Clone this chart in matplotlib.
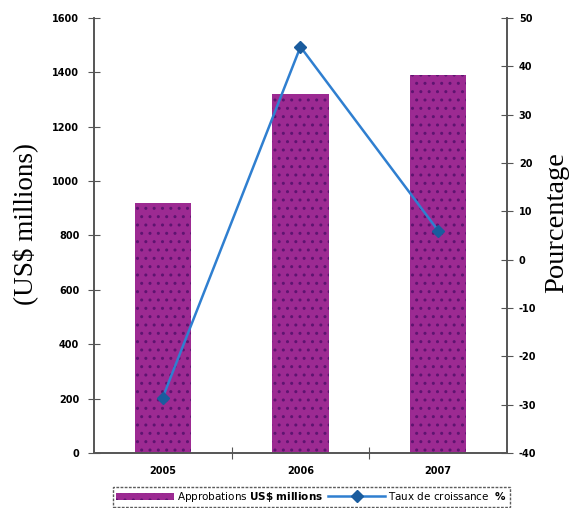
import matplotlib.pyplot as plt
from matplotlib.lines import Line2D
from matplotlib.patches import Patch

years = ["2005", "2006", "2007"]
approvals = [920, 1320, 1390]      # US$ millions
growth = [-28.5, 44, 6]            # %

bar_color = "#9C2A92"
dot_color = "#5E1470"
line_color = "#2F7FD0"
marker_color = "#1A5C9E"
spine_color = "#555555"

plt.rcParams["axes.unicode_minus"] = False

fig = plt.figure(figsize=(5.69, 5.08), dpi=100)
ax = fig.add_axes([0.165, 0.108, 0.726, 0.857])
ax2 = ax.twinx()

x = range(len(years))
ax.bar(x, approvals, width=0.41, color=bar_color, edgecolor=dot_color,
       linewidth=0, hatch="..", zorder=2)
ax2.plot(x, growth, color=line_color, lw=1.8, marker="D", markersize=6,
         markerfacecolor=marker_color, markeredgecolor=marker_color, zorder=3)

ax.set_xlim(-0.5, 2.5)
ax.set_ylim(0, 1600)
ax.set_yticks(range(0, 1601, 200))
ax2.set_ylim(-40, 50)
ax2.set_yticks(range(-40, 51, 10))

# category labels in the middle, tick marks on the boundaries
ax.set_xticks([0.5, 1.5])
ax.set_xticklabels([])
ax.set_xticks(list(x), minor=True)
ax.set_xticklabels(years, minor=True, fontsize=7, fontweight="bold")
ax.tick_params(axis="x", which="major", direction="inout", length=8,
               color=spine_color)
ax.tick_params(axis="x", which="minor", length=0, pad=9)

ax.tick_params(axis="y", direction="inout", length=9, color=spine_color,
               labelsize=7, pad=6)
ax2.tick_params(axis="y", direction="inout", length=9, color=spine_color,
                labelsize=7, pad=4)
for lbl in ax.get_yticklabels() + ax2.get_yticklabels():
    lbl.set_fontweight("bold")

for a in (ax, ax2):
    a.spines["top"].set_visible(False)
    for side in ("left", "right", "bottom"):
        a.spines[side].set_color(spine_color)
        a.spines[side].set_linestyle((0, (2, 1)))
        a.spines[side].set_linewidth(1.2)

fig.text(0.044, 0.559, "(US$ millions)", family="Liberation Serif",
         fontsize=19.5, rotation=90, ha="center", va="center")
fig.text(0.979, 0.561, "Pourcentage", family="Liberation Serif",
         fontsize=20.5, rotation=90, ha="center", va="center")

handles = [
    Patch(facecolor=bar_color, edgecolor=dot_color, hatch="..", linewidth=0),
    Line2D([], [], color=line_color, lw=1.8, marker="D", markersize=6,
           markerfacecolor=marker_color, markeredgecolor=marker_color),
]
labels = [r"Approbations $\mathbf{US\$\ millions}$",
          r"Taux de croissance  $\mathbf{\%}$"]
leg = fig.legend(handles, labels, loc="lower center",
                 bbox_to_anchor=(0.548, 0.002), ncol=2, fontsize=7.5,
                 frameon=True, fancybox=False, handlelength=5.5,
                 handletextpad=0.3, columnspacing=0.5, borderpad=0.3,
                 borderaxespad=0)
leg.get_frame().set_edgecolor("#333333")
leg.get_frame().set_linestyle((0, (2, 1)))

fig.savefig("out.png", dpi=100)
